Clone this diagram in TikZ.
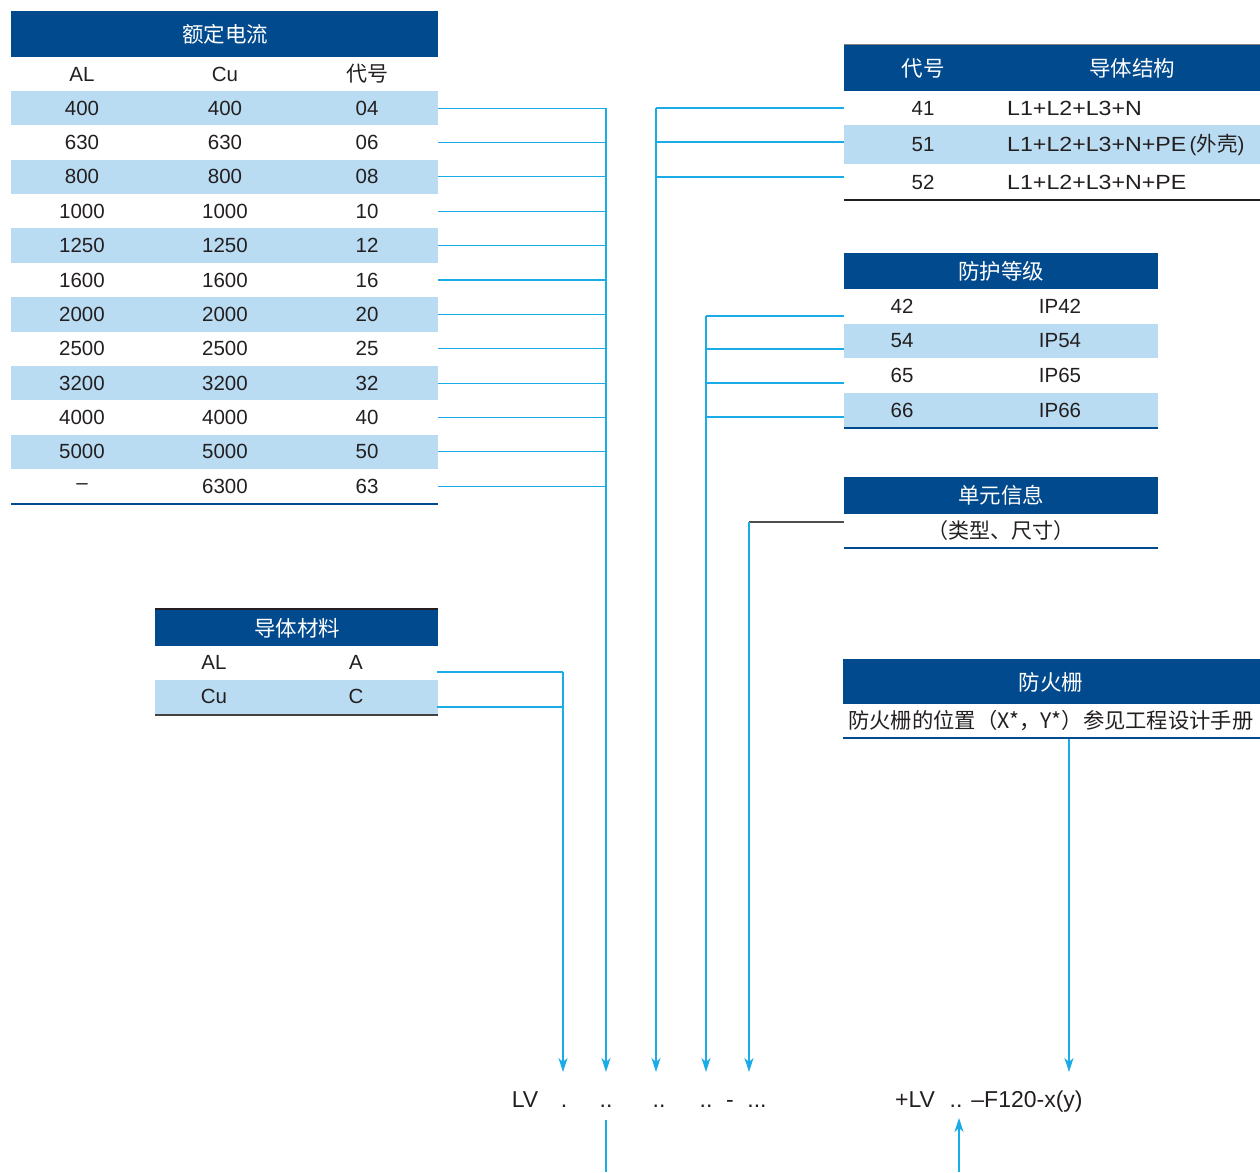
\documentclass[tikz,border=0pt]{standalone}
\usepackage{graphicx}
\usepackage{fontspec}
\setmainfont{Liberation Sans}
\newfontfamily\cjk{Noto Sans CJK SC}
\usetikzlibrary{arrows.meta}
\definecolor{hdr}{RGB}{0,74,141}
\definecolor{rowb}{RGB}{186,220,243}
\definecolor{wire}{RGB}{26,172,230}
\definecolor{ink}{RGB}{35,31,32}
\begin{document}
\begin{tikzpicture}[x=1pt,y=-1pt,
  every node/.style={inner sep=0pt, text=ink},
  lat/.style={font=\fontsize{20.5}{24}\selectfont},
  cj/.style={font=\fontsize{21}{24}\selectfont\cjk},
  hd/.style={font=\fontsize{21.5}{24}\selectfont\cjk, text=white},
  big/.style={font=\fontsize{23}{28}\selectfont, anchor=base},
  wireline/.style={draw=wire, line width=1.1pt},
  arr/.style={wireline, -{Stealth[length=14pt,width=9pt,inset=4pt]}},
  blueline/.style={draw=hdr, line width=2.2pt},
  darkline/.style={draw=ink, line width=2pt}
]
\useasboundingbox (0,0) rectangle (1260,1172);

% ---------- bottom code line ----------
\node[big] (lv) at (525,1107) {LV};
\node[big] (dA) at (564,1107) {.};
\node[big] (dB) at (606,1107) {..};
\node[big] (dC) at (659,1107) {..};
\node[big] (dD) at (706,1107) {..};
\node[big] (dash) at (730,1107) {-};
\node[big] (dE) at (757,1107) {...};
\node[big] (plv) at (915,1107) {+LV};
\node[big] (dF) at (956,1107) {..};
\node[big] (fc) at (1027,1107) {–F120-x(y)};
\coordinate (inA) at (563,1072);
\coordinate (inB) at (606,1072);
\coordinate (inC) at (656,1072);
\coordinate (inD) at (706,1072);
\coordinate (inE) at (749,1072);
\coordinate (inF) at (1069,1072);
\coordinate (outB0) at (606,1120);
\coordinate (outB1) at (606,1172);
\coordinate (inG0) at (959,1172);
\coordinate (inG1) at (959,1118);

% ---------- table 1: rated current ----------
\fill[hdr] (11,11) rectangle (438,57);
\node[hd] (t1h) at (225,34) {额定电流};
\node[lat] (t1al) at (82,74) {AL};
\node[lat] (t1cu) at (225,74) {Cu};
\node[cj] (t1code) at (367,74) {代号};
\foreach \a/\c/\k [count=\i from 0] in {400/400/04,630/630/06,800/800/08,1000/1000/10,1250/1250/12,1600/1600/16,2000/2000/20,2500/2500/25,3200/3200/32,4000/4000/40,5000/5000/50,–/6300/63}{
  \pgfmathsetmacro\yt{91+34.36*\i}
  \pgfmathsetmacro\yc{\yt+17.2}
  \ifodd\i\else\fill[rowb] (11,\yt) rectangle (438,\yt+34.36);\fi
  \node[lat] (t1a\i) at (82,\yc) {\a};
  \node[lat] (t1c\i) at (225,\yc) {\c};
  \node[lat] (t1k\i) at (367,\yc) {\k};
  \coordinate (t1o\i) at (438,\yc);
  \coordinate (b1\i) at (606,\yc);
  \draw[wireline] (t1o\i) -- (b1\i);
}
\draw[blueline] (11,504) -- (438,504);
\draw[arr] (b10) -- (inB);
\draw[wireline] (outB0) -- (outB1);

% ---------- table 2: conductor structure ----------
\draw[gray, line width=1pt] (844,45) -- (1260,45);
\fill[hdr] (844,45.5) rectangle (1260,91);
\node[hd] (t2h1) at (923,68) {代号};
\node[hd] (t2h2) at (1132,68) {导体结构};
\fill[rowb] (844,125) rectangle (1260,164);
\draw[darkline] (844,200) -- (1260,200);
\node[lat] (t2k0) at (923,108) {41};
\node[lat] (t2k1) at (923,145) {51};
\node[lat] (t2k2) at (923,182) {52};
\node[lat, anchor=west] (t2s0) at (1007,108) {\scalebox{1.13}[1]{L1+L2+L3+N}};
\node[lat, anchor=west] (t2s1) at (1007,145) {\scalebox{1.13}[1]{L1+L2+L3+N+PE}\,({\cjk 外壳})};
\node[lat, anchor=west] (t2s2) at (1007,182) {\scalebox{1.13}[1]{L1+L2+L3+N+PE}};
\foreach \y [count=\i from 0] in {108,142,177}{
  \coordinate (t2o\i) at (844,\y);
  \coordinate (b2\i) at (656,\y);
  \draw[wireline] (t2o\i) -- (b2\i);
}
\draw[arr] (b20) -- (inC);

% ---------- table 3: protection class ----------
\fill[hdr] (844,253) rectangle (1158,289);
\node[hd] (t3h) at (1001,271) {防护等级};
\fill[rowb] (844,324) rectangle (1158,358);
\fill[rowb] (844,393) rectangle (1158,427);
\draw[blueline] (844,428) -- (1158,428);
\foreach \k/\y [count=\i from 0] in {42/306,54/341,65/375,66/410}{
  \node[lat] (t3k\i) at (902,\y) {\k};
  \node[lat] (t3p\i) at (1060,\y) {IP\k};
}
\foreach \y [count=\i from 0] in {316,349,383,417}{
  \coordinate (t3o\i) at (844,\y);
  \coordinate (b3\i) at (706,\y);
  \draw[wireline] (t3o\i) -- (b3\i);
}
\draw[arr] (b30) -- (inD);

% ---------- table 4: unit info ----------
\fill[hdr] (844,477) rectangle (1158,514);
\node[hd] (t4h) at (1001,495) {单元信息};
\node[cj] (t4t) at (1001,531) {（类型、尺寸）};
\draw[blueline] (844,548) -- (1158,548);
\coordinate (t4o) at (844,522);
\coordinate (b4) at (749,522);
\draw[draw=ink!80, line width=1.1pt] (t4o) -- (b4);
\draw[arr] (b4) -- (inE);

% ---------- table 5: fire barrier ----------
\fill[hdr] (843,659) rectangle (1260,704);
\node[hd] (t5h) at (1051,682) {防火栅};
\node[font=\fontsize{21.3}{26}\selectfont\cjk, anchor=west] (t5t) at (848,721) {防火栅的位置（X*，Y*）参见工程设计手册};
\draw[blueline] (843,738) -- (1260,738);
\coordinate (t5o) at (1069,739);
\draw[arr] (t5o) -- (inF);
\draw[arr] (inG0) -- (inG1);

% ---------- table 6: conductor material ----------
\fill[hdr] (155,609) rectangle (438,646);
\draw[ink, line width=1.5pt] (155,609) -- (438,609);
\node[hd] (t6h) at (297,628) {导体材料};
\fill[rowb] (155,680) rectangle (438,714);
\draw[draw=ink!85, line width=2pt] (155,715) -- (438,715);
\node[lat] (t6a0) at (214,662) {AL};
\node[lat] (t6b0) at (356,662) {A};
\node[lat] (t6a1) at (214,696) {Cu};
\node[lat] (t6b1) at (356,696) {C};
\foreach \y [count=\i from 0] in {672,707}{
  \coordinate (t6o\i) at (437,\y);
  \coordinate (b6\i) at (563,\y);
  \draw[wireline] (t6o\i) -- (b6\i);
}
\draw[arr] (b60) -- (inA);
\end{tikzpicture}
\end{document}
